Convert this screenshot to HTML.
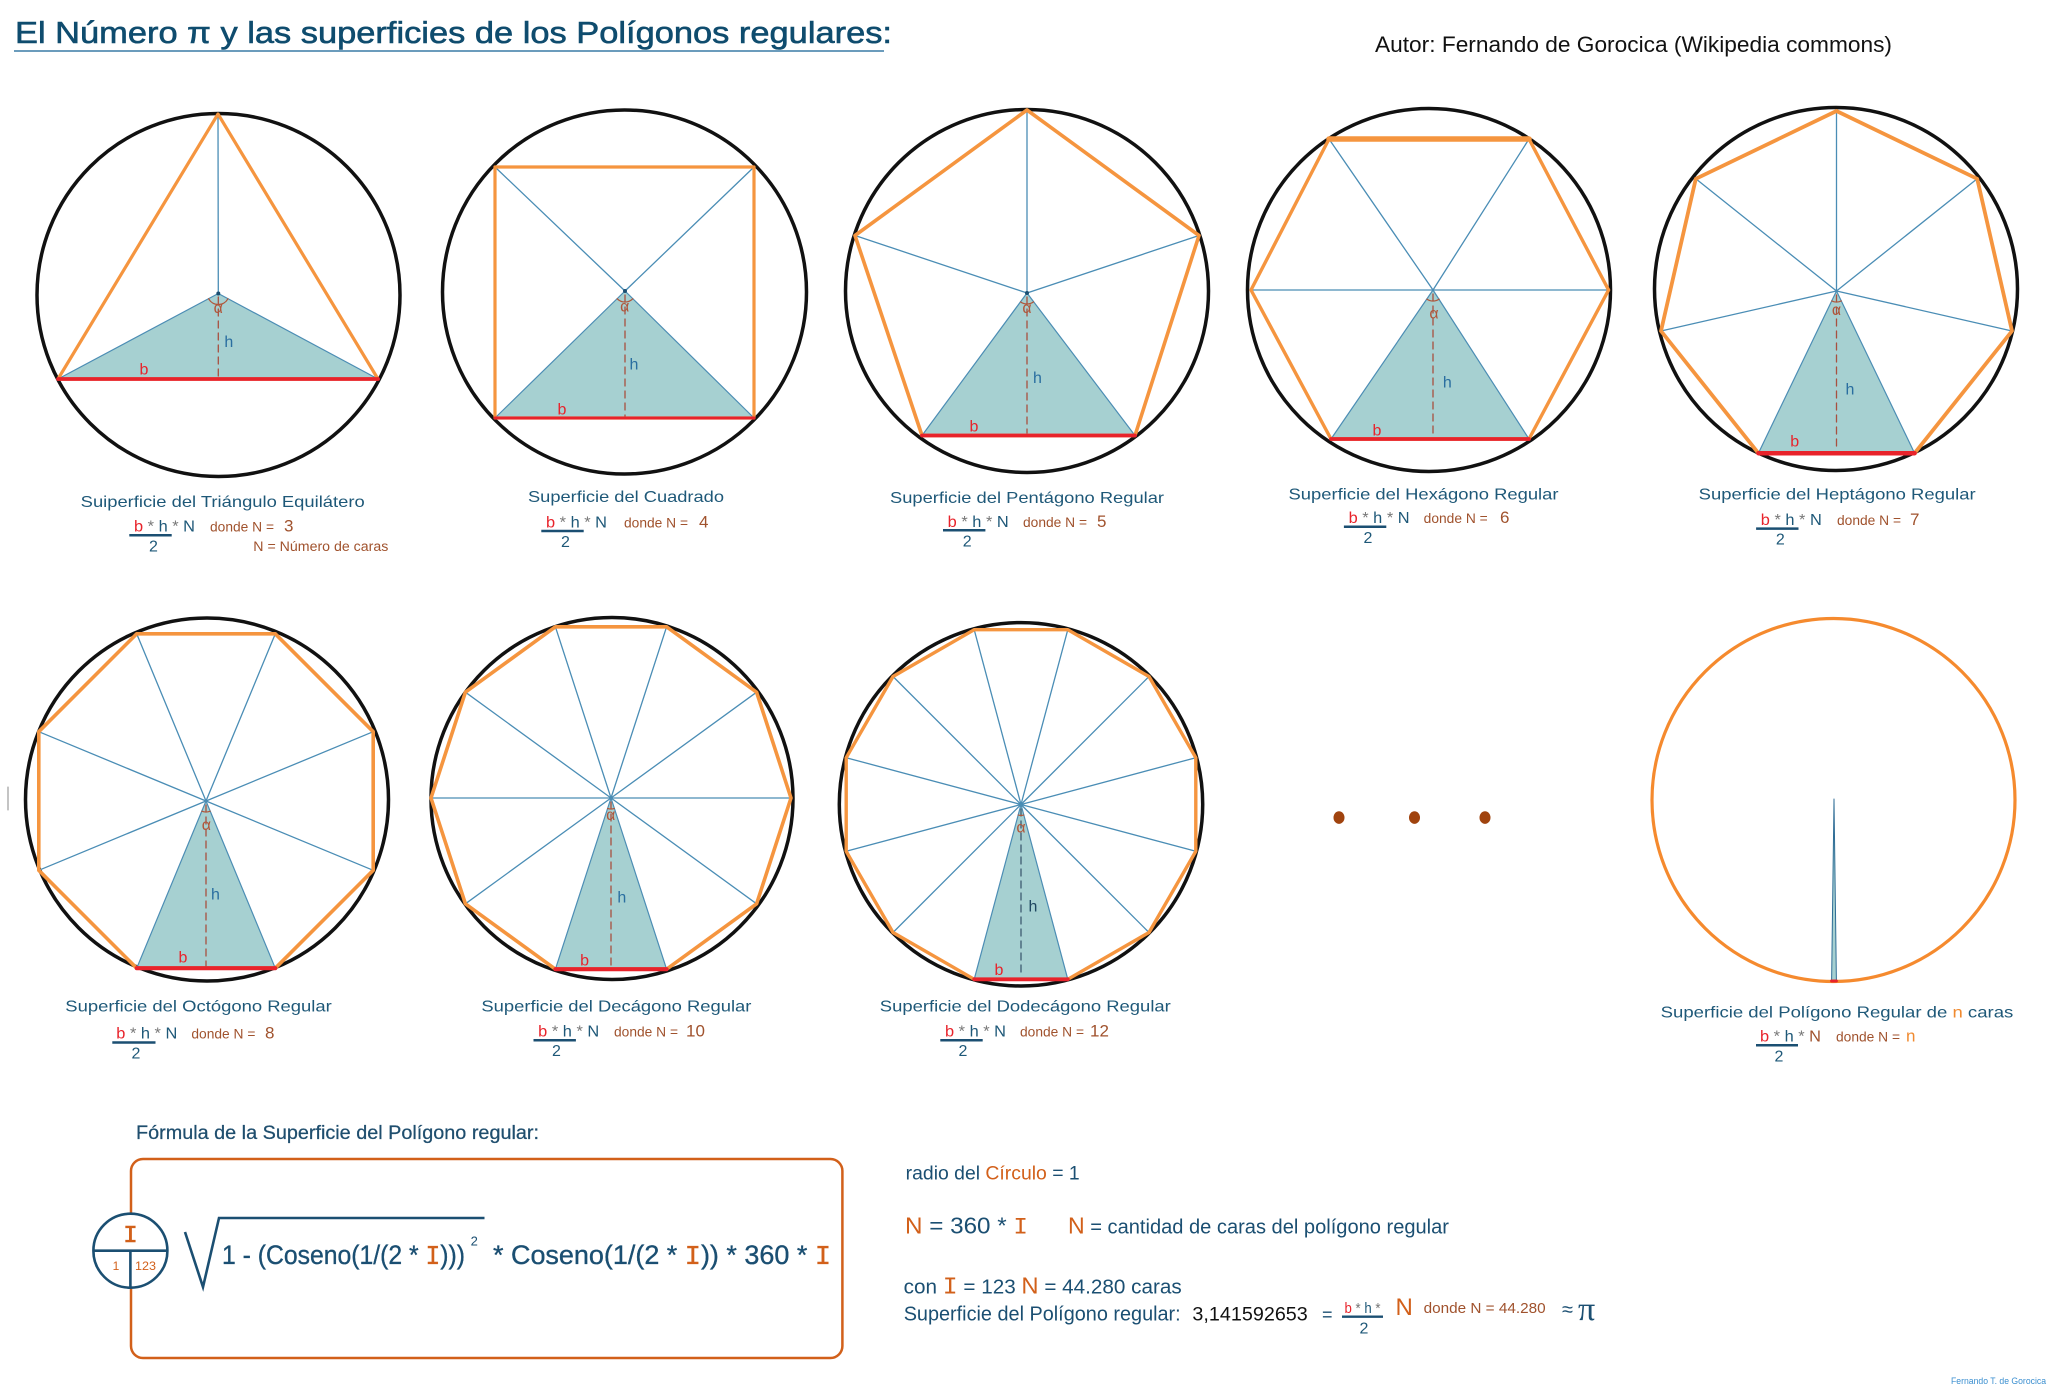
<!DOCTYPE html>
<html>
<head>
<meta charset="utf-8">
<style>
html,body{margin:0;padding:0;background:#fff;}
svg{display:block;}
text{font-family:"Liberation Sans",Arial,sans-serif;}
.lab{font-size:16px;fill:#1E5878;}
.don{font-size:13.5px;fill:#A0522D;}
.num{font-size:17px;fill:#A0522D;}
.fr{font-size:16px;}
.cm{font-family:"Liberation Sans","DejaVu Sans",sans-serif;}
</style>
</head>
<body>
<svg width="2048" height="1387" viewBox="0 0 2048 1387" xmlns="http://www.w3.org/2000/svg">
<rect width="2048" height="1387" fill="#fff"/>

<!-- Title -->
<text x="15" y="43" font-size="31" fill="#0F4C6E" stroke="#0F4C6E" stroke-width="0.6" textLength="877" lengthAdjust="spacingAndGlyphs" class="cm">El Número π y las superficies de los Polígonos regulares:</text>
<line x1="14" y1="51" x2="884" y2="51" stroke="#3A7BA5" stroke-width="1.6"/>
<text x="1375" y="52" font-size="22" fill="#111" textLength="517" lengthAdjust="spacingAndGlyphs">Autor: Fernando de Gorocica (Wikipedia commons)</text>

<g stroke-linecap="round" stroke-linejoin="round">
<!-- ===== Triangle ===== -->
<circle cx="218.5" cy="295" r="181.5" fill="none" stroke="#111" stroke-width="3.5"/>
<line x1="218.3" y1="293.5" x2="218" y2="114" stroke="#4A8DB5" stroke-width="1.3"/>
<polygon points="218.3,293.5 58,379 378,379" fill="#A6D0D1" stroke="#4C8DB4" stroke-width="1.2"/>
<polygon points="218,114 378,379 58,379" fill="none" stroke="#F5953F" stroke-width="3.2"/>
<line x1="58" y1="379" x2="378" y2="379" stroke="#E8232B" stroke-width="3.8"/>
<line x1="218.3" y1="297" x2="218.3" y2="377" stroke="#A85040" stroke-width="1.3" stroke-dasharray="7 5"/>
<path d="M208.6,298.7 A11,11 0 0,0 228,298.7" fill="none" stroke="#B0563A" stroke-width="1.2"/>
<circle cx="218.3" cy="293.5" r="2" fill="#1B4F72"/>

<!-- ===== Square ===== -->
<circle cx="624.5" cy="292" r="182" fill="none" stroke="#111" stroke-width="3.5"/>
<line x1="625" y1="291" x2="495" y2="167" stroke="#4A8DB5" stroke-width="1.3"/>
<line x1="625" y1="291" x2="754" y2="167" stroke="#4A8DB5" stroke-width="1.3"/>
<polygon points="625,291 495,418 754,418" fill="#A6D0D1" stroke="#4C8DB4" stroke-width="1.2"/>
<rect x="495" y="167" width="259" height="251" fill="none" stroke="#F5953F" stroke-width="3.2"/>
<line x1="495" y1="418" x2="754" y2="418" stroke="#E8232B" stroke-width="3"/>
<line x1="625" y1="295" x2="625" y2="416" stroke="#A85040" stroke-width="1.3" stroke-dasharray="7 5"/>
<path d="M617.1,298.7 A11,11 0 0,0 632.9,298.7" fill="none" stroke="#B0563A" stroke-width="1.2"/>
<circle cx="625" cy="291" r="2" fill="#1B4F72"/>

<!-- ===== Pentagon ===== -->
<circle cx="1027" cy="291" r="181.5" fill="none" stroke="#111" stroke-width="3.5"/>
<line x1="1027" y1="293" x2="1027" y2="110" stroke="#4A8DB5" stroke-width="1.3"/>
<line x1="1027" y1="293" x2="1199" y2="235.5" stroke="#4A8DB5" stroke-width="1.3"/>
<line x1="1027" y1="293" x2="855" y2="235.5" stroke="#4A8DB5" stroke-width="1.3"/>
<polygon points="1027,293 922,435.5 1135,435.5" fill="#A6D0D1" stroke="#4C8DB4" stroke-width="1.2"/>
<polygon points="1027,110 1199,235.5 1135,435.5 922,435.5 855,235.5" fill="none" stroke="#F5953F" stroke-width="3.6"/>
<line x1="922" y1="435.5" x2="1135" y2="435.5" stroke="#E8232B" stroke-width="3.8"/>
<line x1="1027" y1="297" x2="1027" y2="433" stroke="#A85040" stroke-width="1.3" stroke-dasharray="7 5"/>
<path d="M1020.5,301.9 A11,11 0 0,0 1033.5,301.9" fill="none" stroke="#B0563A" stroke-width="1.2"/>
<circle cx="1027" cy="293" r="2" fill="#1B4F72"/>

<!-- ===== Hexagon ===== -->
<circle cx="1429" cy="290" r="181.5" fill="none" stroke="#111" stroke-width="3.5"/>
<line x1="1433" y1="290" x2="1329" y2="139" stroke="#4A8DB5" stroke-width="1.3"/>
<line x1="1433" y1="290" x2="1529" y2="139" stroke="#4A8DB5" stroke-width="1.3"/>
<line x1="1251" y1="290" x2="1608.6" y2="290" stroke="#4A8DB5" stroke-width="1.3"/>
<polygon points="1433,290 1331,439 1529,439" fill="#A6D0D1" stroke="#4C8DB4" stroke-width="1.2"/>
<polygon points="1329,139 1529,139 1608.6,290 1529,439 1331,439 1251,290" fill="none" stroke="#F5953F" stroke-width="3.4"/>
<line x1="1329" y1="139" x2="1529" y2="139" stroke="#F5953F" stroke-width="5.5"/>
<line x1="1331" y1="439" x2="1529" y2="439" stroke="#E8232B" stroke-width="3.8"/>
<line x1="1433" y1="294" x2="1433" y2="437" stroke="#A85040" stroke-width="1.3" stroke-dasharray="7 5"/>
<path d="M1426.8,299.1 A11,11 0 0,0 1439.2,299.1" fill="none" stroke="#B0563A" stroke-width="1.2"/>

<!-- ===== Heptagon ===== -->
<circle cx="1836" cy="289" r="181.5" fill="none" stroke="#111" stroke-width="3.5"/>
<g stroke="#4A8DB5" stroke-width="1.3">
<line x1="1836.5" y1="291" x2="1836.5" y2="111"/>
<line x1="1836.5" y1="291" x2="1977.2" y2="178.8"/>
<line x1="1836.5" y1="291" x2="2012" y2="331"/>
<line x1="1836.5" y1="291" x2="1661" y2="331"/>
<line x1="1836.5" y1="291" x2="1695.8" y2="178.8"/>
</g>
<polygon points="1836.5,291 1758.4,453.2 1914.6,453.2" fill="#A6D0D1" stroke="#4C8DB4" stroke-width="1.2"/>
<polygon points="1836.5,111 1977.2,178.8 2012,331 1914.6,453.2 1758.4,453.2 1661,331 1695.8,178.8" fill="none" stroke="#F5953F" stroke-width="3.8"/>
<line x1="1758.4" y1="453.2" x2="1914.6" y2="453.2" stroke="#E8232B" stroke-width="4.5"/>
<line x1="1836.5" y1="295" x2="1836.5" y2="451" stroke="#A85040" stroke-width="1.3" stroke-dasharray="7 5"/>
<path d="M1831.7,300.9 A11,11 0 0,0 1841.3,300.9" fill="none" stroke="#B0563A" stroke-width="1.2"/>

<!-- ===== Octagon ===== -->
<circle cx="207" cy="799.5" r="181.5" fill="none" stroke="#111" stroke-width="3.5"/>
<g stroke="#4A8DB5" stroke-width="1.3">
<line x1="206" y1="801" x2="275.3" y2="633.8"/>
<line x1="206" y1="801" x2="373.2" y2="731.7"/>
<line x1="206" y1="801" x2="373.2" y2="870.3"/>
<line x1="206" y1="801" x2="38.8" y2="870.3"/>
<line x1="206" y1="801" x2="38.8" y2="731.7"/>
<line x1="206" y1="801" x2="136.7" y2="633.8"/>
</g>
<polygon points="206,801 136.7,968.2 275.3,968.2" fill="#A6D0D1" stroke="#4C8DB4" stroke-width="1.2"/>
<polygon points="275.3,633.8 373.2,731.7 373.2,870.3 275.3,968.2 136.7,968.2 38.8,870.3 38.8,731.7 136.7,633.8" fill="none" stroke="#F5953F" stroke-width="3.6"/>
<line x1="136.7" y1="968.2" x2="275.3" y2="968.2" stroke="#E8232B" stroke-width="4.2"/>
<line x1="206" y1="805" x2="206" y2="966" stroke="#A85040" stroke-width="1.3" stroke-dasharray="7 5"/>
<path d="M201.8,811.2 A11,11 0 0,0 210.2,811.2" fill="none" stroke="#B0563A" stroke-width="1.2"/>

<!-- ===== Decagon ===== -->
<circle cx="612" cy="798.5" r="181" fill="none" stroke="#111" stroke-width="3.5"/>
<g stroke="#4A8DB5" stroke-width="1.3">
<line x1="431" y1="798" x2="791" y2="798"/>
<line x1="611" y1="798" x2="756.6" y2="692.2"/>
<line x1="611" y1="798" x2="666.6" y2="626.8"/>
<line x1="611" y1="798" x2="555.4" y2="626.8"/>
<line x1="611" y1="798" x2="465.4" y2="692.2"/>
<line x1="611" y1="798" x2="465.4" y2="903.8"/>
<line x1="611" y1="798" x2="756.6" y2="903.8"/>
</g>
<polygon points="611,798 555.4,969.2 666.6,969.2" fill="#A6D0D1" stroke="#4C8DB4" stroke-width="1.2"/>
<polygon points="791,798 756.6,692.2 666.6,626.8 555.4,626.8 465.4,692.2 431,798 465.4,903.8 555.4,969.2 666.6,969.2 756.6,903.8" fill="none" stroke="#F5953F" stroke-width="3.6"/>
<line x1="555.4" y1="969.2" x2="666.6" y2="969.2" stroke="#E8232B" stroke-width="4.2"/>
<line x1="611" y1="802" x2="611" y2="967" stroke="#A85040" stroke-width="1.3" stroke-dasharray="7 5"/>
<path d="M607.6,808.5 A11,11 0 0,0 614.4,808.5" fill="none" stroke="#B0563A" stroke-width="1.2"/>

<!-- ===== Dodecagon ===== -->
<circle cx="1021" cy="804.3" r="181.7" fill="none" stroke="#111" stroke-width="3.5"/>
<g stroke="#4A8DB5" stroke-width="1.3">
<line x1="1021" y1="804.5" x2="1195.8" y2="757.7"/>
<line x1="1021" y1="804.5" x2="1149" y2="676.5"/>
<line x1="1021" y1="804.5" x2="1067.8" y2="629.7"/>
<line x1="1021" y1="804.5" x2="974.2" y2="629.7"/>
<line x1="1021" y1="804.5" x2="893" y2="676.5"/>
<line x1="1021" y1="804.5" x2="846.2" y2="757.7"/>
<line x1="1021" y1="804.5" x2="846.2" y2="851.3"/>
<line x1="1021" y1="804.5" x2="893" y2="932.5"/>
<line x1="1021" y1="804.5" x2="1149" y2="932.5"/>
<line x1="1021" y1="804.5" x2="1195.8" y2="851.3"/>
</g>
<polygon points="1021,804.5 974.2,979.3 1067.8,979.3" fill="#A6D0D1" stroke="#4C8DB4" stroke-width="1.2"/>
<polygon points="1195.8,757.7 1149,676.5 1067.8,629.7 974.2,629.7 893,676.5 846.2,757.7 846.2,851.3 893,932.5 974.2,979.3 1067.8,979.3 1149,932.5 1195.8,851.3" fill="none" stroke="#F5953F" stroke-width="3.4"/>
<line x1="974.2" y1="979.3" x2="1067.8" y2="979.3" stroke="#E8232B" stroke-width="3.8"/>
<line x1="1021" y1="809" x2="1021" y2="977" stroke="#3D5A70" stroke-width="1.3" stroke-dasharray="7 5"/>
<path d="M1018.2,815.1 A11,11 0 0,0 1023.8,815.1" fill="none" stroke="#B0563A" stroke-width="1.2"/>

<!-- ===== n-gon ===== -->
<circle cx="1833.5" cy="800" r="181.5" fill="none" stroke="#F58A2E" stroke-width="3.2"/>
<polygon points="1834,799 1831.6,981 1836.4,981" fill="#A6D0D1" stroke="#2F6D96" stroke-width="1"/>
<line x1="1831.6" y1="981" x2="1836.4" y2="981" stroke="#E8232B" stroke-width="3"/>

<!-- dots -->
<ellipse cx="1339" cy="817.6" rx="5.5" ry="6.3" fill="#A0430E"/>
<ellipse cx="1414.5" cy="817.6" rx="5.5" ry="6.3" fill="#A0430E"/>
<ellipse cx="1485" cy="817.6" rx="5.5" ry="6.3" fill="#A0430E"/>

<line x1="8" y1="787" x2="8" y2="810" stroke="#8A8A8A" stroke-width="1"/>
</g>

<!-- b / h / alpha labels -->
<g font-size="16" text-anchor="middle">
<text x="144" y="374.3" fill="#E8232B">b</text><text x="228.8" y="347" fill="#2A6EA0">h</text><text x="218.3" y="313" fill="#B0563A" font-size="16">α</text>
<text x="562" y="414.3" fill="#E8232B">b</text><text x="634" y="369.6" fill="#2A6EA0">h</text><text x="624.8" y="311.5" fill="#B0563A" font-size="16">α</text>
<text x="974" y="431.4" fill="#E8232B">b</text><text x="1037.5" y="383" fill="#2A6EA0">h</text><text x="1027" y="313" fill="#B0563A" font-size="16">α</text>
<text x="1377" y="435.7" fill="#E8232B">b</text><text x="1447.3" y="387.5" fill="#2A6EA0">h</text><text x="1434" y="318.5" fill="#B0563A" font-size="16">α</text>
<text x="1794.7" y="446.4" fill="#E8232B">b</text><text x="1850" y="394.6" fill="#2A6EA0">h</text><text x="1836.5" y="315" fill="#B0563A" font-size="16">α</text>
<text x="183" y="962.7" fill="#E8232B">b</text><text x="215.5" y="899.3" fill="#2A6EA0">h</text><text x="206.4" y="830" fill="#B0563A" font-size="16">α</text>
<text x="584.6" y="965.5" fill="#E8232B">b</text><text x="621.8" y="902.7" fill="#2A6EA0">h</text><text x="610.7" y="820" fill="#B0563A" font-size="16">α</text>
<text x="999" y="975" fill="#E8232B">b</text><text x="1033" y="911.7" fill="#1E4660">h</text><text x="1021" y="832.5" fill="#B0563A" font-size="16">α</text>
</g>

<!-- Captions -->
<text class="lab" x="80.7" y="507" textLength="284" lengthAdjust="spacingAndGlyphs">Suiperficie del  Triángulo Equilátero</text>
<text class="lab" x="528" y="502" textLength="196" lengthAdjust="spacingAndGlyphs">Superficie del  Cuadrado</text>
<text class="lab" x="890" y="503" textLength="274" lengthAdjust="spacingAndGlyphs">Superficie del Pentágono Regular</text>
<text class="lab" x="1288.5" y="499.5" textLength="270" lengthAdjust="spacingAndGlyphs">Superficie del  Hexágono Regular</text>
<text class="lab" x="1698.7" y="499.5" textLength="277" lengthAdjust="spacingAndGlyphs">Superficie del  Heptágono Regular</text>
<text class="lab" x="65.3" y="1011.7" textLength="266.5" lengthAdjust="spacingAndGlyphs">Superficie del Octógono Regular</text>
<text class="lab" x="481.4" y="1011.7" textLength="270" lengthAdjust="spacingAndGlyphs">Superficie del Decágono Regular</text>
<text class="lab" x="879.8" y="1011.7" textLength="291" lengthAdjust="spacingAndGlyphs">Superficie del Dodecágono Regular</text>
<text class="lab" x="1660.7" y="1017.7" textLength="352.6" lengthAdjust="spacingAndGlyphs">Superficie del Polígono Regular de <tspan fill="#F08A30">n</tspan> caras</text>

<!-- Fractions -->
<g>
<text class="fr" x="134" y="531.7" textLength="61" lengthAdjust="spacingAndGlyphs"><tspan fill="#E8232B">b</tspan><tspan fill="#777"> * </tspan><tspan fill="#1E5878">h</tspan><tspan fill="#777"> * </tspan><tspan fill="#1E5878">N</tspan></text>
<line x1="129.3" y1="535.2" x2="171.7" y2="535.2" stroke="#1B4F72" stroke-width="2.5"/>
<text class="fr" x="153.5" y="551.7" text-anchor="middle" fill="#1E5878">2</text>
<text class="don" x="210" y="531.7" textLength="64" lengthAdjust="spacingAndGlyphs">donde N =</text>
<text class="num" x="284" y="531.7">3</text>
<text class="don" x="253.3" y="551" textLength="135" lengthAdjust="spacingAndGlyphs">N = Número de caras</text>
</g>
<g>
<text class="fr" x="546" y="527.5" textLength="61" lengthAdjust="spacingAndGlyphs"><tspan fill="#E8232B">b</tspan><tspan fill="#777"> * </tspan><tspan fill="#1E5878">h</tspan><tspan fill="#777"> * </tspan><tspan fill="#1E5878">N</tspan></text>
<line x1="541.3" y1="531" x2="583.7" y2="531" stroke="#1B4F72" stroke-width="2.5"/>
<text class="fr" x="565.5" y="547" text-anchor="middle" fill="#1E5878">2</text>
<text class="don" x="624" y="527.5" textLength="64" lengthAdjust="spacingAndGlyphs">donde N =</text>
<text class="num" x="699" y="527.5">4</text>
</g>
<g>
<text class="fr" x="947.7" y="526.8" textLength="61" lengthAdjust="spacingAndGlyphs"><tspan fill="#E8232B">b</tspan><tspan fill="#777"> * </tspan><tspan fill="#1E5878">h</tspan><tspan fill="#777"> * </tspan><tspan fill="#1E5878">N</tspan></text>
<line x1="943" y1="530.3" x2="985.4" y2="530.3" stroke="#1B4F72" stroke-width="2.5"/>
<text class="fr" x="967.2" y="546.5" text-anchor="middle" fill="#1E5878">2</text>
<text class="don" x="1023" y="526.8" textLength="64" lengthAdjust="spacingAndGlyphs">donde N =</text>
<text class="num" x="1097" y="526.8">5</text>
</g>
<g>
<text class="fr" x="1348.6" y="523.2" textLength="61" lengthAdjust="spacingAndGlyphs"><tspan fill="#E8232B">b</tspan><tspan fill="#777"> * </tspan><tspan fill="#1E5878">h</tspan><tspan fill="#777"> * </tspan><tspan fill="#1E5878">N</tspan></text>
<line x1="1343.9" y1="526.8" x2="1386.3" y2="526.8" stroke="#1B4F72" stroke-width="2.5"/>
<text class="fr" x="1368" y="543" text-anchor="middle" fill="#1E5878">2</text>
<text class="don" x="1423.7" y="523.2" textLength="64" lengthAdjust="spacingAndGlyphs">donde N =</text>
<text class="num" x="1500" y="523.2">6</text>
</g>
<g>
<text class="fr" x="1760.8" y="525" textLength="61" lengthAdjust="spacingAndGlyphs"><tspan fill="#E8232B">b</tspan><tspan fill="#777"> * </tspan><tspan fill="#1E5878">h</tspan><tspan fill="#777"> * </tspan><tspan fill="#1E5878">N</tspan></text>
<line x1="1756.1" y1="528.6" x2="1798.5" y2="528.6" stroke="#1B4F72" stroke-width="2.5"/>
<text class="fr" x="1780.3" y="544.6" text-anchor="middle" fill="#1E5878">2</text>
<text class="don" x="1837" y="525" textLength="64" lengthAdjust="spacingAndGlyphs">donde N =</text>
<text class="num" x="1910" y="525">7</text>
</g>
<g>
<text class="fr" x="116.3" y="1038.3" textLength="61" lengthAdjust="spacingAndGlyphs"><tspan fill="#E8232B">b</tspan><tspan fill="#777"> * </tspan><tspan fill="#1E5878">h</tspan><tspan fill="#777"> * </tspan><tspan fill="#1E5878">N</tspan></text>
<line x1="112.3" y1="1042.5" x2="155.5" y2="1042.5" stroke="#1B4F72" stroke-width="2.5"/>
<text class="fr" x="135.9" y="1058.3" text-anchor="middle" fill="#1E5878">2</text>
<text class="don" x="191.4" y="1038.3" textLength="64" lengthAdjust="spacingAndGlyphs">donde N =</text>
<text class="num" x="265" y="1038.3">8</text>
</g>
<g>
<text class="fr" x="538.2" y="1036.7" textLength="61" lengthAdjust="spacingAndGlyphs"><tspan fill="#E8232B">b</tspan><tspan fill="#777"> * </tspan><tspan fill="#1E5878">h</tspan><tspan fill="#777"> * </tspan><tspan fill="#1E5878">N</tspan></text>
<line x1="533.5" y1="1040.3" x2="575.9" y2="1040.3" stroke="#1B4F72" stroke-width="2.5"/>
<text class="fr" x="556.5" y="1056" text-anchor="middle" fill="#1E5878">2</text>
<text class="don" x="614" y="1036.7" textLength="64" lengthAdjust="spacingAndGlyphs">donde N =</text>
<text class="num" x="686" y="1036.7">10</text>
</g>
<g>
<text class="fr" x="945" y="1036.7" textLength="61" lengthAdjust="spacingAndGlyphs"><tspan fill="#E8232B">b</tspan><tspan fill="#777"> * </tspan><tspan fill="#1E5878">h</tspan><tspan fill="#777"> * </tspan><tspan fill="#1E5878">N</tspan></text>
<line x1="940.3" y1="1040.3" x2="982.7" y2="1040.3" stroke="#1B4F72" stroke-width="2.5"/>
<text class="fr" x="963" y="1056" text-anchor="middle" fill="#1E5878">2</text>
<text class="don" x="1020" y="1036.7" textLength="64" lengthAdjust="spacingAndGlyphs">donde N =</text>
<text class="num" x="1090" y="1036.7">12</text>
</g>
<g>
<text class="fr" x="1760" y="1041.7" textLength="61" lengthAdjust="spacingAndGlyphs"><tspan fill="#E8232B">b</tspan><tspan fill="#777"> * </tspan><tspan fill="#1E5878">h</tspan><tspan fill="#777"> * </tspan><tspan fill="#A0522D">N</tspan></text>
<line x1="1756" y1="1045.2" x2="1798" y2="1045.2" stroke="#1B4F72" stroke-width="2.5"/>
<text class="fr" x="1779" y="1061.5" text-anchor="middle" fill="#1E5878">2</text>
<text class="don" x="1836" y="1041.7" textLength="64" lengthAdjust="spacingAndGlyphs">donde N =</text>
<text class="num" x="1906" y="1041.7" style="fill:#F08A30">n</text>
</g>

<!-- Formula section -->
<text class="cm" x="136" y="1139" font-size="19" fill="#1F4E6E" stroke="#1F4E6E" stroke-width="0.25" textLength="403" lengthAdjust="spacingAndGlyphs">Fórmula de la Superficie del Polígono regular:</text>
<rect x="131" y="1159" width="711.4" height="199" rx="12" ry="12" fill="none" stroke="#D2601A" stroke-width="2.5"/>
<circle cx="130.4" cy="1250.7" r="37" fill="#fff" stroke="#1B4F72" stroke-width="2.6"/>
<line x1="93.4" y1="1250.7" x2="167.4" y2="1250.7" stroke="#1B4F72" stroke-width="2.6"/>
<line x1="130.4" y1="1250.7" x2="130.4" y2="1287.7" stroke="#1B4F72" stroke-width="2.6"/>
<text x="130.4" y="1242" font-size="24" fill="#D2601A" stroke="#D2601A" stroke-width="0.6" text-anchor="middle" style="font-family:'Liberation Mono',monospace">I</text>
<text x="116" y="1270" font-size="12" fill="#D2601A" text-anchor="middle">1</text>
<text x="145.5" y="1270" font-size="12" fill="#D2601A" text-anchor="middle" textLength="21" lengthAdjust="spacingAndGlyphs">123</text>
<polyline points="185,1232 203,1287 219,1218 484.5,1218" fill="none" stroke="#1B4F72" stroke-width="2.6" stroke-linejoin="miter"/>
<text class="cm" x="222" y="1264" font-size="27" fill="#1B4F72" stroke="#1B4F72" stroke-width="0.35" textLength="243" lengthAdjust="spacingAndGlyphs">1 - (Coseno(1/(2 * <tspan fill="#D2601A" stroke="#D2601A" style="font-family:'Liberation Mono',monospace">I</tspan>)))</text>
<text x="470.6" y="1245.7" font-size="13" fill="#1B4F72">2</text>
<text class="cm" x="493" y="1264" font-size="27" fill="#1B4F72" stroke="#1B4F72" stroke-width="0.35" textLength="338" lengthAdjust="spacingAndGlyphs">* Coseno(1/(2 * <tspan fill="#D2601A" stroke="#D2601A" style="font-family:'Liberation Mono',monospace">I</tspan>)) * 360 * <tspan fill="#D2601A" stroke="#D2601A" style="font-family:'Liberation Mono',monospace">I</tspan></text>

<!-- right column -->
<text class="cm" x="905.7" y="1179.3" font-size="19" fill="#1B4F72" textLength="174" lengthAdjust="spacingAndGlyphs">radio del <tspan fill="#D2601A">Círculo</tspan> = 1</text>
<text class="cm" x="905" y="1233.3" font-size="23" fill="#1B4F72" textLength="123" lengthAdjust="spacingAndGlyphs"><tspan fill="#D2601A">N</tspan> = 360 * <tspan fill="#D2601A" style="font-family:'Liberation Mono',monospace">I</tspan></text>
<text class="cm" x="1068" y="1233.3" font-size="20" fill="#1B4F72" textLength="381" lengthAdjust="spacingAndGlyphs"><tspan fill="#D2601A" font-size="23">N</tspan> = cantidad de caras del polígono regular</text>
<text class="cm" x="903.7" y="1293.3" font-size="20" fill="#1B4F72" textLength="278" lengthAdjust="spacingAndGlyphs">con <tspan fill="#D2601A" font-size="24" style="font-family:'Liberation Mono',monospace">I</tspan> = 123   <tspan fill="#D2601A" font-size="23">N</tspan> = 44.280 caras</text>
<text class="cm" x="903.7" y="1320.7" font-size="20" fill="#1B4F72" textLength="277" lengthAdjust="spacingAndGlyphs">Superficie del Polígono regular:</text>
<text x="1192.4" y="1320.7" font-size="19" fill="#111" textLength="115.4" lengthAdjust="spacingAndGlyphs">3,141592653</text>
<text x="1322" y="1320.7" font-size="18" fill="#1B4F72">=</text>
<text x="1344.5" y="1313" font-size="15" textLength="36" lengthAdjust="spacingAndGlyphs"><tspan fill="#E8232B">b</tspan><tspan fill="#777"> * </tspan><tspan fill="#1E5878">h</tspan><tspan fill="#777"> *</tspan></text>
<line x1="1342" y1="1316.7" x2="1383" y2="1316.7" stroke="#1B4F72" stroke-width="2.3"/>
<text x="1364" y="1333.5" font-size="16" fill="#1E5878" text-anchor="middle">2</text>
<text x="1395.5" y="1315" font-size="24" fill="#D2601A">N</text>
<text x="1423.6" y="1313" font-size="15" fill="#A0522D" textLength="122" lengthAdjust="spacingAndGlyphs">donde N = 44.280</text>
<text x="1562" y="1316" font-size="20" fill="#1B4F72">≈</text>
<text x="1578" y="1320" font-size="34" fill="#1B4F72" style="font-family:'Liberation Serif',serif">π</text>

<text x="1951" y="1384" font-size="9" fill="#3B8FD0" textLength="95" lengthAdjust="spacingAndGlyphs">Fernando T. de Gorocica</text>
</svg>
</body>
</html>
